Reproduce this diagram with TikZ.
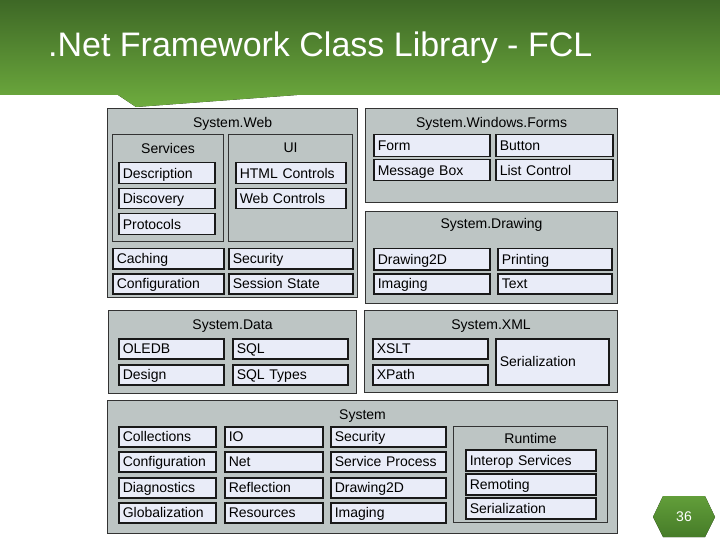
\documentclass[tikz,border=0pt]{standalone}
\usepackage{fontspec}
\setmainfont{Liberation Sans}
\usepackage{xcolor}
\usepackage{tikz}
\usetikzlibrary{positioning}

\definecolor{bannerdark}{RGB}{62,104,38}
\definecolor{bannerlight}{RGB}{110,172,62}
\definecolor{groupgray}{RGB}{189,197,196}
\definecolor{itemblue}{RGB}{233,236,248}
\definecolor{hexlight}{RGB}{98,158,58}
\definecolor{hexdark}{RGB}{70,124,40}

\newcommand{\boxfont}{\fontsize{14bp}{16bp}\selectfont}
\newcommand{\bannerfont}{\fontsize{34bp}{40bp}\selectfont}

\begin{document}
\begin{tikzpicture}[x=1bp, y=-1bp,
    group/.style={draw=black!80, fill=groupgray, line width=1.1bp, anchor=north west, inner sep=0pt},
    item/.style={draw=black!90, fill=itemblue, line width=1.5bp, anchor=north west, align=left,
                 inner xsep=4bp, inner ysep=0pt, text height=12bp, text depth=2bp, font=\boxfont},
    caption/.style={inner sep=0pt, font=\boxfont}]

    \useasboundingbox (0,0) rectangle (720,540);

    % Title banner with its pointer
    \fill[top color=bannerdark, bottom color=bannerlight]
        (0,0) -- (720,0) -- (720,95) -- (297,95) -- (136,107) -- (118,95) -- (0,95) -- cycle;
    \node[anchor=base west, inner sep=0pt, text=white, font=\bannerfont] (banner) at (48,57)
        {.Net Framework Class Library - FCL};

    % System.Web
    \node[group, minimum width=250bp, minimum height=189bp] (web) at (107,108) {};
    \node[caption, below=9bp of web.north] (web_title) {System.Web};

    \node[group, minimum width=111bp, minimum height=107bp] (services) at (112,134) {};
    \node[caption, below=9bp of services.north] (services_title) {Services};
    \node[item, text width=88bp, minimum height=21bp] (description) at (118,162) {Description};
    \node[item, text width=88bp, minimum height=20bp] (discovery) at (118,188) {Discovery};
    \node[item, text width=88bp, minimum height=21bp] (protocols) at (118,213) {Protocols};

    \node[group, minimum width=124bp, minimum height=107bp] (ui) at (228,134) {};
    \node[caption, below=9bp of ui.north] (ui_title) {UI};
    \node[item, text width=102bp, minimum height=21bp] (html_controls) at (235,162) {HTML Controls};
    \node[item, text width=102bp, minimum height=20bp] (web_controls) at (235,188) {Web Controls};

    \node[item, text width=103bp, minimum height=20bp] (caching) at (112,248) {Caching};
    \node[item, text width=116bp, minimum height=20bp] (web_security) at (228,248) {Security};
    \node[item, text width=103bp, minimum height=20bp] (web_config) at (112,273) {Configuration};
    \node[item, text width=116bp, minimum height=20bp] (session_state) at (228,273) {Session State};

    % System.Windows.Forms
    \node[group, minimum width=252bp, minimum height=94bp] (forms) at (365,108) {};
    \node[caption, below=9bp of forms.north] (forms_title) {System.Windows.Forms};
    \node[item, text width=108bp, minimum height=22bp] (form) at (373,134) {Form};
    \node[item, text width=109bp, minimum height=22bp] (button) at (495,134) {Button};
    \node[item, text width=108bp, minimum height=21bp] (message_box) at (373,159) {Message Box};
    \node[item, text width=109bp, minimum height=21bp] (list_control) at (495,159) {List Control};

    % System.Drawing
    \node[group, minimum width=252bp, minimum height=92bp] (drawing) at (365,211) {};
    \node[caption, below=7bp of drawing.north] (drawing_title) {System.Drawing};
    \node[item, text width=108bp, minimum height=21bp] (drawing2d) at (373,248) {Drawing2D};
    \node[item, text width=106bp, minimum height=21bp] (printing) at (497,248) {Printing};
    \node[item, text width=108bp, minimum height=20bp] (imaging) at (373,273) {Imaging};
    \node[item, text width=106bp, minimum height=20bp] (text) at (497,273) {Text};

    % System.Data
    \node[group, minimum width=248bp, minimum height=83bp] (data) at (108,310) {};
    \node[caption, below=10bp of data.north] (data_title) {System.Data};
    \node[item, text width=97bp, minimum height=20bp] (oledb) at (118,338) {OLEDB};
    \node[item, text width=107bp, minimum height=20bp] (sql) at (232,338) {SQL};
    \node[item, text width=97bp, minimum height=20bp] (design) at (118,364) {Design};
    \node[item, text width=107bp, minimum height=20bp] (sql_types) at (232,364) {SQL Types};

    % System.XML
    \node[group, minimum width=253bp, minimum height=82bp] (xml) at (364,310) {};
    \node[caption, below=10bp of xml.north] (xml_title) {System.XML};
    \node[item, text width=107bp, minimum height=20bp] (xslt) at (372,338) {XSLT};
    \node[item, text width=107bp, minimum height=20bp] (xpath) at (372,364) {XPath};
    \node[item, text width=105bp, minimum height=46bp] (xml_serialization) at (495,338) {Serialization};

    % System
    \node[group, minimum width=510bp, minimum height=133bp] (system) at (107,400) {};
    \node[caption, below=10bp of system.north] (system_title) {System};
    \foreach \row/\y/\a/\b/\c in {0/426/Collections/IO/Security,
                                  1/451/Configuration/Net/Service Process,
                                  2/477/Diagnostics/Reflection/Drawing2D,
                                  3/502/Globalization/Resources/Imaging} {
        \node[item, text width=89bp, minimum height=20bp] (sys_a\row) at (118,\y) {\a};
        \node[item, text width=90bp, minimum height=20bp] (sys_b\row) at (224,\y) {\b};
        \node[item, text width=107bp, minimum height=20bp] (sys_c\row) at (330,\y) {\c};
    }

    \node[group, minimum width=154bp, minimum height=96bp] (runtime) at (453,426) {};
    \node[caption, below=7bp of runtime.north] (runtime_title) {Runtime};
    \foreach \row/\y/\t in {0/449/Interop Services, 1/473/Remoting, 2/497/Serialization} {
        \node[item, text width=122bp, minimum height=21bp] (runtime\row) at (465,\y) {\t};
    }

    % Slide number
    \fill[top color=hexlight, bottom color=hexdark]
        (653,517) -- (663,496) -- (705,496) -- (715,517) -- (705,537) -- (663,537) -- cycle;
    \node[text=white, font=\boxfont] (slide_number) at (684,516.5) {36};

\end{tikzpicture}
\end{document}
